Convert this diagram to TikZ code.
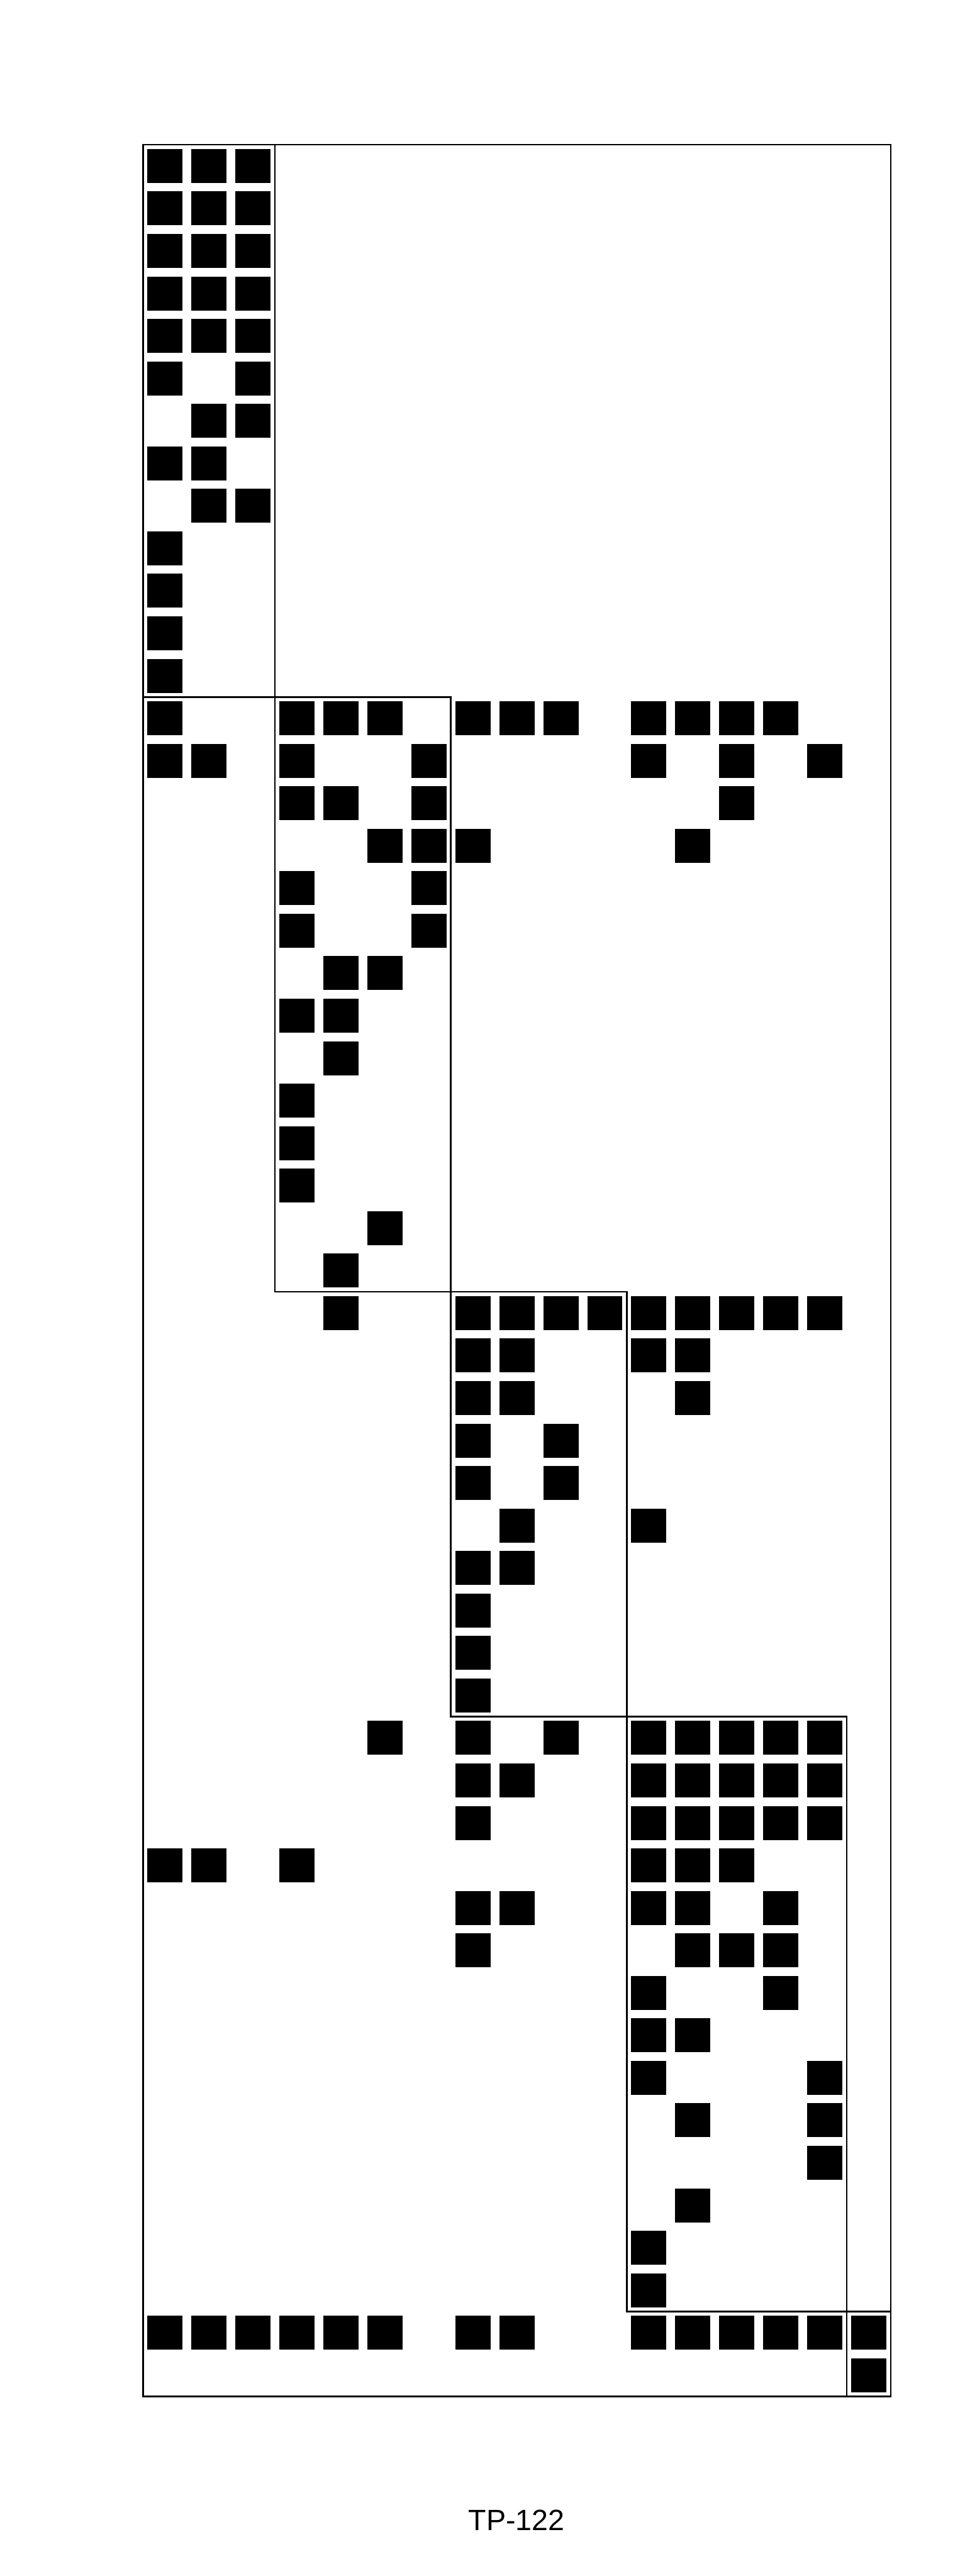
\documentclass[tikz,border=0pt]{standalone}
\usepackage{fontspec}
\setmainfont{Liberation Sans}
\begin{document}
\begin{tikzpicture}[x=0.7535cm,y=-0.728cm,
  blockbox/.style={draw=black,line width=0.8pt},
  entry/.style={fill=black}]
\useasboundingbox (-2.45cm,2.48cm) rectangle (14.08cm,-41.66cm);
% nonzero entries: row / list of columns
\foreach \r/\cs in {
 0/{0,1,2},1/{0,1,2},2/{0,1,2},3/{0,1,2},4/{0,1,2},5/{0,2},6/{1,2},7/{0,1},8/{1,2},
 9/{0},10/{0},11/{0},12/{0},
 13/{0,3,4,5,7,8,9,11,12,13,14},14/{0,1,3,6,11,13,15},15/{3,4,6,13},16/{5,6,7,12},
 17/{3,6},18/{3,6},19/{4,5},20/{3,4},21/{4},22/{3},23/{3},24/{3},25/{5},26/{4},
 27/{4,7,8,9,10,11,12,13,14,15},28/{7,8,11,12},29/{7,8,12},30/{7,9},31/{7,9},
 32/{8,11},33/{7,8},34/{7},35/{7},36/{7},
 37/{5,7,9,11,12,13,14,15},38/{7,8,11,12,13,14,15},39/{7,11,12,13,14,15},
 40/{0,1,3,11,12,13},41/{7,8,11,12,14},42/{7,12,13,14},43/{11,14},44/{11,12},
 45/{11,15},46/{12,15},47/{15},48/{12},49/{11},50/{11},
 51/{0,1,2,3,4,5,7,8,11,12,13,14,15,16},52/{16}}
{
  \foreach \c in \cs {
    \fill[entry] (\c+0.1,\r+0.1) rectangle (\c+0.9,\r+0.9);
  }
}
% blocks
\draw[blockbox] (0,0) rectangle (17,53);
\draw[blockbox] (0,0) rectangle (3,13);
\draw[blockbox] (3,13) rectangle (7,27);
\draw[blockbox] (7,27) rectangle (11,37);
\draw[blockbox] (11,37) rectangle (16,51);
\draw[blockbox] (16,51) rectangle (17,53);
\node[inner sep=0pt,font=\fontsize{14.3}{17}\selectfont] (title) at (6.40cm,-40.70cm) {TP-122};
\end{tikzpicture}
\end{document}
